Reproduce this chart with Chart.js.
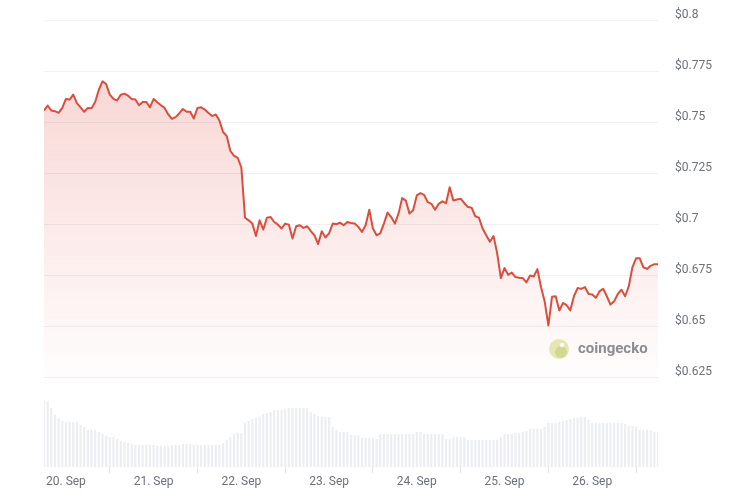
<!DOCTYPE html>
<html>
<head>
<meta charset="utf-8">
<script src="https://cdn.jsdelivr.net/npm/chart.js@4"></script>
<style>
  html, body { margin: 0; padding: 0; background: #ffffff; }
  #wrap { width: 732px; height: 500px; }
</style>
</head>
<body>
<div id="wrap"><canvas id="chart"></canvas></div>
<script>
// hourly price (USD), starting 19 Sep 18:00
const prices = [
  0.7556, 0.7581, 0.7556, 0.7553, 0.7545, 0.7569, 0.7613, 0.7610, 0.7634, 0.7593,
  0.7572, 0.7550, 0.7569, 0.7567, 0.7598, 0.7658, 0.7699, 0.7686, 0.7634, 0.7613,
  0.7605, 0.7634, 0.7639, 0.7629, 0.7613, 0.7610, 0.7582, 0.7598, 0.7598, 0.7572,
  0.7613, 0.7597, 0.7582, 0.7569, 0.7537, 0.7515, 0.7524, 0.7542, 0.7564, 0.7550,
  0.7550, 0.7517, 0.7569, 0.7572, 0.7561, 0.7544, 0.7529, 0.7537, 0.7507, 0.7451,
  0.7431, 0.7358, 0.7334, 0.7324, 0.7277, 0.7031, 0.7018, 0.7002, 0.6941, 0.7018,
  0.6973, 0.7031, 0.7034, 0.7010, 0.6997, 0.6978, 0.7002, 0.6997, 0.6929, 0.6989,
  0.6994, 0.6981, 0.6989, 0.6965, 0.6945, 0.6902, 0.6965, 0.6934, 0.6954, 0.7002,
  0.6999, 0.7007, 0.6994, 0.7010, 0.7005, 0.7002, 0.6986, 0.6961, 0.6994, 0.7070,
  0.6978, 0.6945, 0.6954, 0.7002, 0.7056, 0.7034, 0.7002, 0.7051, 0.7127, 0.7115,
  0.7051, 0.7067, 0.7140, 0.7151, 0.7143, 0.7107, 0.7099, 0.7070, 0.7099, 0.7111,
  0.7102, 0.7180, 0.7115, 0.7120, 0.7124, 0.7102, 0.7083, 0.7080, 0.7038, 0.7031,
  0.6978, 0.6945, 0.6913, 0.6941, 0.6856, 0.6735, 0.6784, 0.6751, 0.6762, 0.6740,
  0.6737, 0.6735, 0.6714, 0.6748, 0.6743, 0.6779, 0.6690, 0.6620, 0.6503, 0.6643,
  0.6646, 0.6576, 0.6613, 0.6602, 0.6576, 0.6646, 0.6686, 0.6682, 0.6691, 0.6657,
  0.6654, 0.6638, 0.6670, 0.6683, 0.6646, 0.6605, 0.6621, 0.6657, 0.6678, 0.6646,
  0.6694, 0.6788, 0.6832, 0.6832, 0.6788, 0.6780, 0.6795, 0.6803, 0.6803
];

// hourly volume (relative)
const volumes = [
  67, 66, 59, 52, 49, 46, 45, 45, 45, 45,
  42, 40, 37, 37, 37, 35, 33, 31, 30, 30,
  28, 26, 25, 24, 23, 22, 22, 22, 22, 22,
  22, 21, 21, 21, 21, 22, 22, 22, 23, 23,
  23, 22, 22, 22, 22, 22, 22, 22, 22, 24,
  27, 30, 33, 34, 34, 44, 46, 48, 49, 50,
  53, 54, 55, 57, 57, 57, 58, 59, 59, 59,
  59, 59, 59, 55, 53, 51, 50, 50, 50, 40,
  37, 35, 35, 35, 32, 32, 32, 29, 29, 29,
  29, 28, 33, 33, 33, 33, 33, 33, 33, 33,
  33, 33, 35, 35, 33, 33, 33, 33, 33, 33,
  28, 28, 30, 30, 30, 30, 27, 27, 27, 27,
  27, 27, 27, 27, 27, 30, 33, 33, 33, 34,
  34, 35, 36, 38, 38, 38, 38, 40, 44, 44,
  44, 45, 46, 47, 48, 49, 49, 50, 50, 47,
  44, 44, 44, 44, 44, 44, 44, 44, 44, 43,
  41, 41, 40, 37, 37, 37, 36, 35, 35
];

const dayLabels = ["20. Sep", "21. Sep", "22. Sep", "23. Sep", "24. Sep", "25. Sep", "26. Sep"];
const dayTickHours = [6, 30, 54, 78, 102, 126, 150];
const priceTicks = [0.625, 0.65, 0.675, 0.7, 0.725, 0.75, 0.775, 0.8];

const lineColor = "#d94f3f";
const labelColor = "#6c7079";
const gridColor = "#eef0f3";

// coingecko watermark
const watermark = {
  id: "watermark",
  beforeDatasetsDraw(chart) {
    const { ctx, chartArea } = chart;
    const cx = chartArea.right - 99;
    const cy = chartArea.bottom - 118;
    ctx.save();
    ctx.beginPath();
    ctx.arc(cx, cy, 10, 0, Math.PI * 2);
    ctx.fillStyle = "#e6ebb4";
    ctx.fill();
    ctx.beginPath();
    ctx.arc(cx + 2, cy + 3, 6, 0, Math.PI * 2);
    ctx.fillStyle = "#cfdd95";
    ctx.fill();
    ctx.beginPath();
    ctx.arc(cx + 3, cy - 4, 2.2, 0, Math.PI * 2);
    ctx.fillStyle = "#ffffff";
    ctx.fill();
    ctx.font = "bold 15px Roboto";
    ctx.fillStyle = "#8a8e95";
    ctx.textBaseline = "middle";
    ctx.fillText("coingecko", cx + 19, cy);
    ctx.restore();
  },
};

const ctx = document.getElementById("chart");

const chart = new Chart(ctx, {
  data: {
    datasets: [
      {
        type: "line",
        label: "Price",
        data: prices.map((p, i) => ({ x: i, y: p })),
        yAxisID: "y",
        borderColor: lineColor,
        borderWidth: 2,
        borderJoinStyle: "round",
        pointRadius: 0,
        tension: 0,
        fill: "start",
        backgroundColor: (context) => {
          const area = context.chart.chartArea;
          if (!area) return "rgba(225,80,70,0.2)";
          const g = context.chart.ctx.createLinearGradient(0, area.top, 0, area.top + 372);
          g.addColorStop(0, "rgba(225,80,70,0.27)");
          g.addColorStop(1, "rgba(225,80,70,0)");
          return g;
        },
        order: 1,
      },
      {
        type: "bar",
        label: "Volume",
        data: volumes.map((v, i) => ({ x: i, y: v })),
        yAxisID: "yVol",
        backgroundColor: "#eceef1",
        barPercentage: 0.6,
        categoryPercentage: 1,
        order: 2,
      },
    ],
  },
  options: {
    responsive: true,
    maintainAspectRatio: false,
    animation: false,
    layout: { padding: { left: 44, top: 20, right: 0, bottom: 0 } },
    plugins: {
      legend: { display: false },
      tooltip: { enabled: false },
    },
    scales: {
      x: {
        type: "linear",
        min: 0,
        max: 168,
        offset: false,
        afterBuildTicks: (scale) => {
          scale.ticks = dayTickHours.map((h) => ({ value: h }));
        },
        afterFit: (scale) => {
          scale.height = 33;
          scale.paddingLeft = 0;
          scale.paddingRight = 0;
        },
        ticks: {
          autoSkip: false,
          maxRotation: 0,
          padding: 2,
          color: labelColor,
          font: { family: "Roboto", size: 12 },
          callback: (value) => dayLabels[dayTickHours.indexOf(value)],
        },
        grid: {
          drawOnChartArea: false,
          drawTicks: true,
          tickLength: 6,
          color: "#e3e5e8",
        },
        border: { display: false },
      },
      y: {
        position: "right",
        min: 0.5809,
        max: 0.8,
        afterBuildTicks: (scale) => {
          scale.ticks = priceTicks.map((v) => ({ value: v }));
        },
        afterFit: (scale) => {
          scale.width = 74;
          scale.paddingTop = 0;
          scale.paddingBottom = 0;
        },
        ticks: {
          padding: 17,
          labelOffset: -5,
          color: labelColor,
          font: { family: "Roboto", size: 12 },
          callback: (value) => "$" + parseFloat(value.toFixed(3)),
        },
        grid: { color: gridColor, drawTicks: false },
        border: { display: false },
      },
      yVol: {
        display: false,
        min: 0,
        max: 447,
      },
    },
  },
  plugins: [watermark],
});
</script>
</body>
</html>
